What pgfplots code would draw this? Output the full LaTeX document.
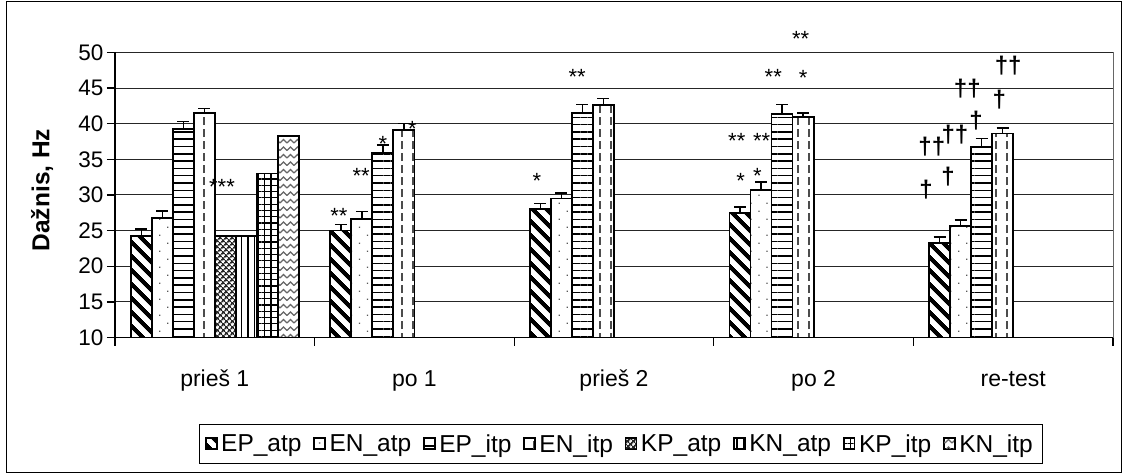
\documentclass[border=0pt]{standalone}
\usepackage{fontspec}
\setmainfont{Liberation Sans}
\usepackage{pgfplots}
\pgfplotsset{compat=1.18}
\usetikzlibrary{patterns.meta}

% fill patterns for the bars
\tikzdeclarepattern{
  name=vdashes, type=uncolored,
  bottom left={(-1pt,-1pt)}, top right={(12pt,13pt)},
  tile size={(11pt,12pt)},
  code={\tikzset{x=1pt,y=1pt}\draw[line width=2pt] (5.5,2) -- (5.5,10);}
}
\tikzdeclarepattern{
  name=zigzag, type=uncolored,
  bottom left={(-1pt,-1pt)}, top right={(8pt,8.5pt)},
  tile size={(7pt,7.5pt)},
  code={\tikzset{x=1pt,y=1pt}\draw[line width=1.3pt,line join=miter] (0,2) -- (3.5,5.5) -- (7,2);}
}

\newcommand\tickfont{\fontsize{22.5}{27}\selectfont}
\newcommand\catfont{\fontsize{23}{27}\selectfont}
\newcommand\legfont{\fontsize{24.5}{29}\selectfont}
\newcommand\starfont{\fontsize{22}{26}\selectfont}
\newcommand\dagfont{\fontsize{24}{29}\selectfont\bfseries}

\pgfplotsset{
  barbase/.style={draw=black, line width=1.8pt, preaction={fill=white},
    legend image code/.code={\draw[##1, line width=1pt] (0pt,-5.5pt) rectangle (11pt,5.5pt);}},
  errb/.style={error bars/.cd, y dir=plus, y explicit,
    error bar style={line width=1.5pt, black, solid},
    error mark options={rotate=90, mark size=6pt, line width=1.5pt, black, solid}},
}

\begin{document}
\begin{tikzpicture}
\begin{axis}[
  scale only axis, width=998pt, height=285.2pt,
  xmin=-0.5, xmax=4.5, ymin=10, ymax=50,
  ybar=0pt, bar width=0.105263,
  clip mode=individual,
  axis x line*=bottom, axis y line*=left,
  axis line style={line width=1.3pt, black},
  tick align=outside, major tick length=8pt, minor tick length=8pt,
  xtick={0,1,2,3,4},
  xticklabels={prieš 1, po 1, prieš 2, po 2, re-test},
  major x tick style={draw=none},
  minor xtick={-0.5,0.5,1.5,2.5,3.5,4.5},
  minor x tick style={black, line width=1.3pt},
  ytick={10,15,...,50},
  y tick style={black, line width=1.3pt},
  ymajorgrids,
  grid style={black!85, line width=0.9pt},
  /pgf/number format/assume math mode=true,
  yticklabel style={font=\tickfont, anchor=east},
  xticklabel style={font=\catfont, anchor=base, yshift=-41pt},
  ylabel={\bfseries Dažnis, Hz},
  ylabel style={font=\fontsize{24.5}{29}\selectfont, at={(axis description cs:-0.0731,0.517)}, anchor=center},
  legend columns=8,
  legend style={at={(axis description cs:0.507,-0.373)}, anchor=center,
    draw=black, line width=1pt, font=\legfont,
    inner xsep=6pt, inner ysep=10pt,
    nodes={inner xsep=4pt, inner ysep=0pt},
    /tikz/every even column/.append style={column sep=8pt}},
]
% E groups: four series in every session
\addplot[barbase, pattern={Lines[angle=-45, distance=10.5pt, line width=4.5pt]}, errb]
  coordinates {(0,24.2) +- (0,1.0) (1,25.0) +- (0,0.85) (2,28.0) +- (0,0.8) (3,27.5) +- (0,0.8) (4,23.3) +- (0,0.8)};
\addplot[barbase, pattern={Dots[distance=11.3pt, angle=45, radius=0.9pt]}, pattern color=black!65, errb]
  coordinates {(0,26.8) +- (0,0.95) (1,26.6) +- (0,1.1) (2,29.5) +- (0,0.8) (3,30.7) +- (0,1.1) (4,25.6) +- (0,0.9)};
\addplot[barbase, pattern={Lines[distance=7.3pt, line width=1.5pt]}, errb]
  coordinates {(0,39.2) +- (0,1.1) (1,35.9) +- (0,1.1) (2,41.5) +- (0,1.15) (3,41.4) +- (0,1.25) (4,36.7) +- (0,1.2)};
\addplot[barbase, pattern=vdashes, pattern color=black!70, errb]
  coordinates {(0,41.5) +- (0,0.6) (1,39.1) +- (0,0.9) (2,42.6) +- (0,0.9) (3,40.9) +- (0,0.6) (4,38.6) +- (0,0.8)};
% K groups: first session only
\addplot[barbase, pattern={Hatch[angle=45, distance=4pt, line width=1.7pt]}, pattern color=black!85]
  coordinates {(0,24.2)};
\addplot[barbase, pattern={Lines[angle=90, distance=6.7pt, line width=1.2pt]}]
  coordinates {(0,24.2)};
\addplot[barbase, pattern={Hatch[angle=0, distance=6.3pt, line width=1.2pt]}]
  coordinates {(0,33.0)};
\addplot[barbase, pattern=zigzag, pattern color=black!60]
  coordinates {(0,38.3)};
\legend{EP\_atp, EN\_atp, EP\_itp, EN\_itp, KP\_atp, KN\_atp, KP\_itp, KN\_itp}

% significance marks
\begin{scope}[every node/.style={font=\starfont, inner sep=0pt}]
\node at (axis cs:0.036,31.14) {***};
\node at (axis cs:0.622,27.1) {**};
\node at (axis cs:0.733,32.6) {**};
\node at (axis cs:0.842,37.2) {*};
\node at (axis cs:0.99,39.3) {*};
\node at (axis cs:1.614,32.0) {*};
\node at (axis cs:1.815,46.6) {**};
\node at (axis cs:2.615,37.6) {**};
\node at (axis cs:2.740,37.6) {**};
\node at (axis cs:2.634,32.0) {*};
\node at (axis cs:2.718,32.7) {*};
\node at (axis cs:2.798,46.6) {**};
\node at (axis cs:2.948,46.4) {*};
\node at (axis cs:2.935,51.87) {**};
\end{scope}
\begin{scope}[every node/.style={font=\dagfont, inner sep=0pt}]
\node at (axis cs:3.563,30.69) {†};
\node at (axis cs:3.592,36.76) {††};
\node at (axis cs:3.673,32.55) {†};
\node at (axis cs:3.708,38.4) {††};
\node at (axis cs:3.814,40.4) {†};
\node at (axis cs:3.770,44.95) {††};
\node at (axis cs:3.930,43.3) {†};
\node at (axis cs:3.975,48.2) {††};
\end{scope}
% plot area border on the right
\draw[black!60, line width=1pt] (axis description cs:1,0) -- (axis description cs:1,1);
\end{axis}
% chart frame
\draw[black, line width=1pt] (-108pt,-135pt) rectangle (1006pt,336pt);
\pgfresetboundingbox
\path[use as bounding box] (-115pt,-137.5pt) rectangle (1014pt,337.5pt);
\end{tikzpicture}
\end{document}
